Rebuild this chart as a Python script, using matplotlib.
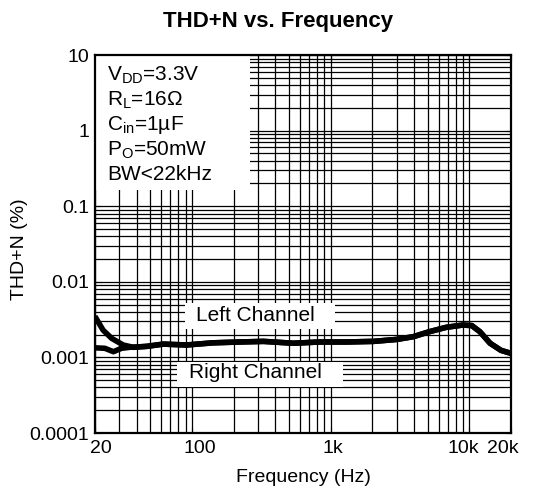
#!/usr/bin/env python3
"""THD+N vs. Frequency, left/right channel, log-log grid chart."""

import matplotlib

matplotlib.use("Agg")

import matplotlib.pyplot as plt
import matplotlib.transforms as mtransforms
from matplotlib.patches import Rectangle
from matplotlib.ticker import FixedLocator, LogLocator, NullFormatter

FONT = "Liberation Sans"

# left channel (Hz, %)
LEFT_FREQ = [20, 22.9, 26.4, 32, 37.9, 47.2, 62.2, 91.5, 142, 222, 328, 538,
             834, 1305, 2040, 3000, 3940, 5150, 6800, 8930, 10400, 11900,
             14100, 16900, 20000]
LEFT_THD = [0.0035, 0.0023, 0.00179, 0.00146, 0.00136, 0.0014, 0.0015,
            0.00146, 0.00156, 0.0016, 0.00163, 0.00154, 0.0016, 0.0016,
            0.00163, 0.00173, 0.00188, 0.00219, 0.0025, 0.00268, 0.00264,
            0.00219, 0.00154, 0.00124, 0.00113]

# right channel only differs below ~40 Hz, then tracks the left one
RIGHT_FREQ = [20, 23.6, 27.2, 31.1, 35.6, 47.2, 62.2, 91.5, 142, 222, 328,
              538, 834, 1305, 2040, 3000, 3940, 5150, 6800, 8930, 10400,
              11900, 14100, 16900, 20000]
RIGHT_THD = [0.00134, 0.00132, 0.00119, 0.00132, 0.00136, 0.0014, 0.0015,
             0.00146, 0.00156, 0.0016, 0.00163, 0.00154, 0.0016, 0.0016,
             0.00163, 0.00173, 0.00188, 0.00219, 0.0025, 0.00268, 0.00264,
             0.00219, 0.00154, 0.00124, 0.00113]

X_TICKS = [20, 100, 1000, 10000, 20000]
X_TICK_LABELS = ["20", "100", "1k", "10k", "20k"]
Y_TICKS = [1e-4, 1e-3, 1e-2, 1e-1, 1, 10]
Y_TICK_LABELS = ["0.0001", "0.001", "0.01", "0.1", "1", "10"]

CONDITIONS = [
    r"V$_{\mathrm{DD}}$=3.3V",
    r"R$_{\mathrm{L}}$=16Ω",
    r"C$_{\mathrm{in}}$=1µF",
    r"P$_{\mathrm{O}}$=50mW",
    "BW<22kHz",
]

# the source chart nudges its x labels off the tick (points)
X_LABEL_NUDGE = [4.5, 5.5, 1.5, -4.5, -6.0]


def white_box(ax, x, y, w, h):
    ax.add_patch(Rectangle((x, y), w, h, transform=ax.transAxes,
                           facecolor="white", edgecolor="none", zorder=1))


def main() -> int:
    plt.rcParams["font.family"] = [FONT, "DejaVu Sans"]
    plt.rcParams["mathtext.fontset"] = "custom"
    plt.rcParams["mathtext.rm"] = FONT
    plt.rcParams["mathtext.it"] = FONT + ":italic"
    plt.rcParams["mathtext.bf"] = FONT + ":bold"

    fig = plt.figure(figsize=(5.33, 4.96), dpi=100)
    ax = fig.add_axes([0.178, 0.127, 0.781, 0.762])

    ax.set_xscale("log")
    ax.set_yscale("log")
    ax.set_xlim(20, 20000)
    ax.set_ylim(1e-4, 10)

    ax.xaxis.set_major_locator(FixedLocator(X_TICKS))
    ax.set_xticklabels(X_TICK_LABELS)
    ax.xaxis.set_minor_locator(LogLocator(base=10, subs=range(2, 10)))
    ax.xaxis.set_minor_formatter(NullFormatter())
    ax.yaxis.set_major_locator(FixedLocator(Y_TICKS))
    ax.set_yticklabels(Y_TICK_LABELS)
    ax.yaxis.set_minor_locator(LogLocator(base=10, subs=range(2, 10)))
    ax.yaxis.set_minor_formatter(NullFormatter())

    ax.set_axisbelow(True)
    ax.grid(which="both", color="black", lw=0.9)
    ax.tick_params(which="both", direction="in", top=True, right=True,
                   labelsize=14)
    ax.tick_params(axis="x", which="major", pad=5)
    ax.tick_params(axis="y", which="major", pad=4)
    ax.tick_params(which="major", length=4)
    ax.tick_params(which="minor", length=3)
    for spine in ax.spines.values():
        spine.set_linewidth(1.6)

    for label, dx in zip(ax.get_xticklabels(), X_LABEL_NUDGE):
        offset = mtransforms.ScaledTranslation(dx / 72, 0, fig.dpi_scale_trans)
        label.set_transform(label.get_transform() + offset)

    # white areas behind the text blocks
    white_box(ax, 0.0, 0.643, 0.373, 0.357)
    white_box(ax, 0.216, 0.275, 0.361, 0.069)
    white_box(ax, 0.197, 0.122, 0.399, 0.066)

    ax.plot(RIGHT_FREQ, RIGHT_THD, color="black", lw=4, zorder=2,
            solid_capstyle="butt", solid_joinstyle="round")
    ax.plot(LEFT_FREQ, LEFT_THD, color="black", lw=4, zorder=2,
            solid_capstyle="butt", solid_joinstyle="round")

    for i, line in enumerate(CONDITIONS):
        ax.text(0.03, 0.947 - i * 0.066, line, transform=ax.transAxes,
                fontsize=15, va="center", ha="left", zorder=3)

    ax.text(0.385, 0.310, "Left Channel", transform=ax.transAxes,
            fontsize=15, ha="center", va="center", zorder=3)
    ax.text(0.385, 0.159, "Right Channel", transform=ax.transAxes,
            fontsize=15, ha="center", va="center", zorder=3)

    fig.text(303 / 533, 1 - 478 / 496, "Frequency (Hz)", fontsize=14,
             ha="center", va="center")
    fig.text(20 / 533, 1 - 249 / 496, "THD+N (%)", fontsize=14,
             rotation=90, ha="center", va="center")
    fig.text(278 / 533, 1 - 21 / 496, "THD+N vs. Frequency", fontsize=16,
             fontweight="bold", ha="center", va="center")

    fig.savefig("out.png", dpi=100)
    plt.close(fig)
    return 0


if __name__ == "__main__":
    raise SystemExit(main())
